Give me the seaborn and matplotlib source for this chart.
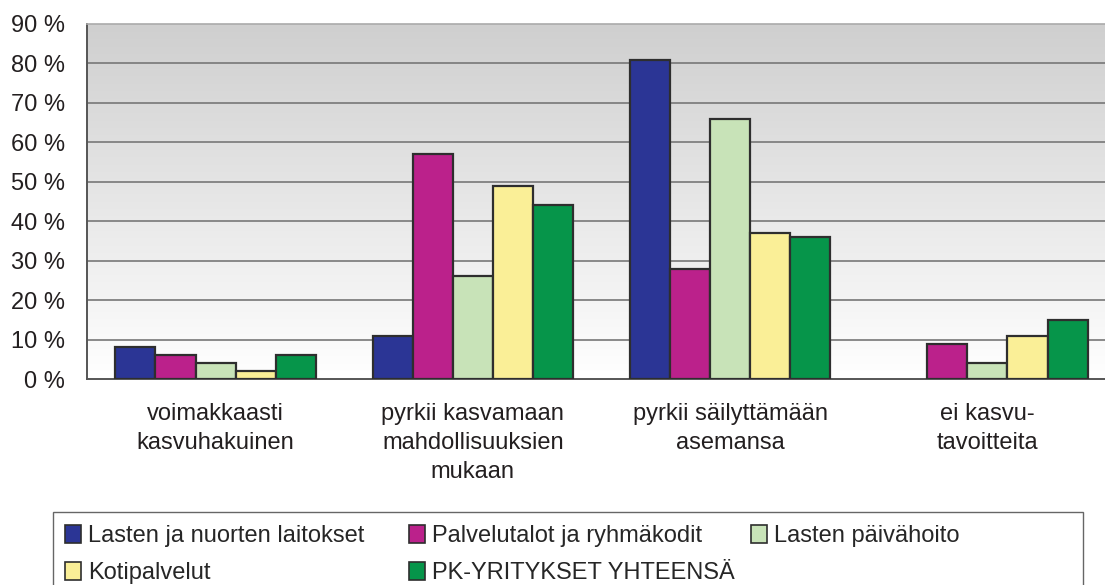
import numpy as np
import pandas as pd
import matplotlib
matplotlib.use("Agg")
import matplotlib.pyplot as plt
import seaborn as sns
from matplotlib.patches import Patch, Rectangle

# data (percent)
categories = [
    "voimakkaasti\nkasvuhakuinen",
    "pyrkii kasvamaan\nmahdollisuuksien\nmukaan",
    "pyrkii säilyttämään\nasemansa",
    "ei kasvu-\ntavoitteita",
]
series = [
    "Lasten ja nuorten laitokset",
    "Palvelutalot ja ryhmäkodit",
    "Lasten päivähoito",
    "Kotipalvelut",
    "PK-YRITYKSET YHTEENSÄ",
]
laitokset = [8, 11, 81, np.nan]
palvelutalot = [6, 57, 28, 9]
paivahoito = [4, 26, 66, 4]
kotipalvelut = [2, 49, 37, 11]
yhteensa = [6, 44, 36, 15]
yticks = list(range(0, 100, 10))

colors = ["#2B3595", "#BB218B", "#C8E3B8", "#FAEF97", "#06954A"]

rows = []
for name, vals in zip(series, [laitokset, palvelutalot, paivahoito, kotipalvelut, yhteensa]):
    for cat, v in zip(categories, vals):
        rows.append({"kategoria": cat, "sarja": name, "arvo": v})
df = pd.DataFrame(rows)

sns.set_style("white")
plt.rcParams["font.family"] = ["Liberation Sans", "DejaVu Sans"]

fig = plt.figure(figsize=(11.05, 5.85), dpi=100)
ax = fig.add_axes([87 / 1105, 206 / 585, 1029 / 1105, 355 / 585])

# gradient background
grad = np.linspace(0.0, 1.0, 256).reshape(-1, 1)
cmap = matplotlib.colors.LinearSegmentedColormap.from_list("bg", ["#FFFFFF", "#CFCFCF"])
ax.imshow(grad, extent=[0, 1, 0, 1], transform=ax.transAxes, cmap=cmap,
          aspect="auto", zorder=0, origin="lower")

sns.barplot(data=df, x="kategoria", y="arvo", hue="sarja", order=categories,
            hue_order=series, palette=colors, width=0.78, edgecolor="#2E2E2E",
            linewidth=1.6, saturation=1, errorbar=None, legend=False, ax=ax, zorder=3)

ax.set_ylim(0, 90)
ax.set_xlim(-0.5, 3.5)
ax.set_yticks(yticks)
ax.set_yticklabels([f"{t} %" for t in yticks])
for t in yticks[1:-1]:
    ax.axhline(t, color="#777777", lw=1.2, zorder=1)

ax.set_xlabel("")
ax.set_ylabel("")
ax.tick_params(axis="y", length=0, pad=16, labelsize=17, colors="#231F20")
ax.tick_params(axis="x", length=0, pad=17, labelsize=17, colors="#231F20")
for lab in ax.get_xticklabels():
    lab.set_linespacing(1.42)

for side in ["left", "bottom"]:
    ax.spines[side].set_color("#555555")
    ax.spines[side].set_linewidth(1.4)
ax.spines["top"].set_color("#AAAAAA")
ax.spines["top"].set_linewidth(1.2)
ax.spines["right"].set_visible(False)

# legend: framed box with a fixed 3-column grid
fig.patches.append(Rectangle((53 / 1105, -0.05), 1030 / 1105, (585 - 512) / 585 + 0.05,
                             transform=fig.transFigure, fill=False,
                             edgecolor="#666666", lw=1.0))
handles = [Patch(facecolor=c, edgecolor="#2E2E2E", lw=1.2) for c in colors]
cols = [[0, 3], [1, 4], [2]]
col_x = [60, 404, 746]
for idx, x in zip(cols, col_x):
    fig.legend([handles[i] for i in idx], [series[i] for i in idx],
               loc="upper left", bbox_to_anchor=(x / 1105, (585 - 520) / 585),
               frameon=False, fontsize=17, handlelength=0.7, handleheight=0.8,
               handletextpad=0.3, labelspacing=0.62, borderaxespad=0,
               borderpad=0.2)

fig.savefig("out.png", dpi=100)
